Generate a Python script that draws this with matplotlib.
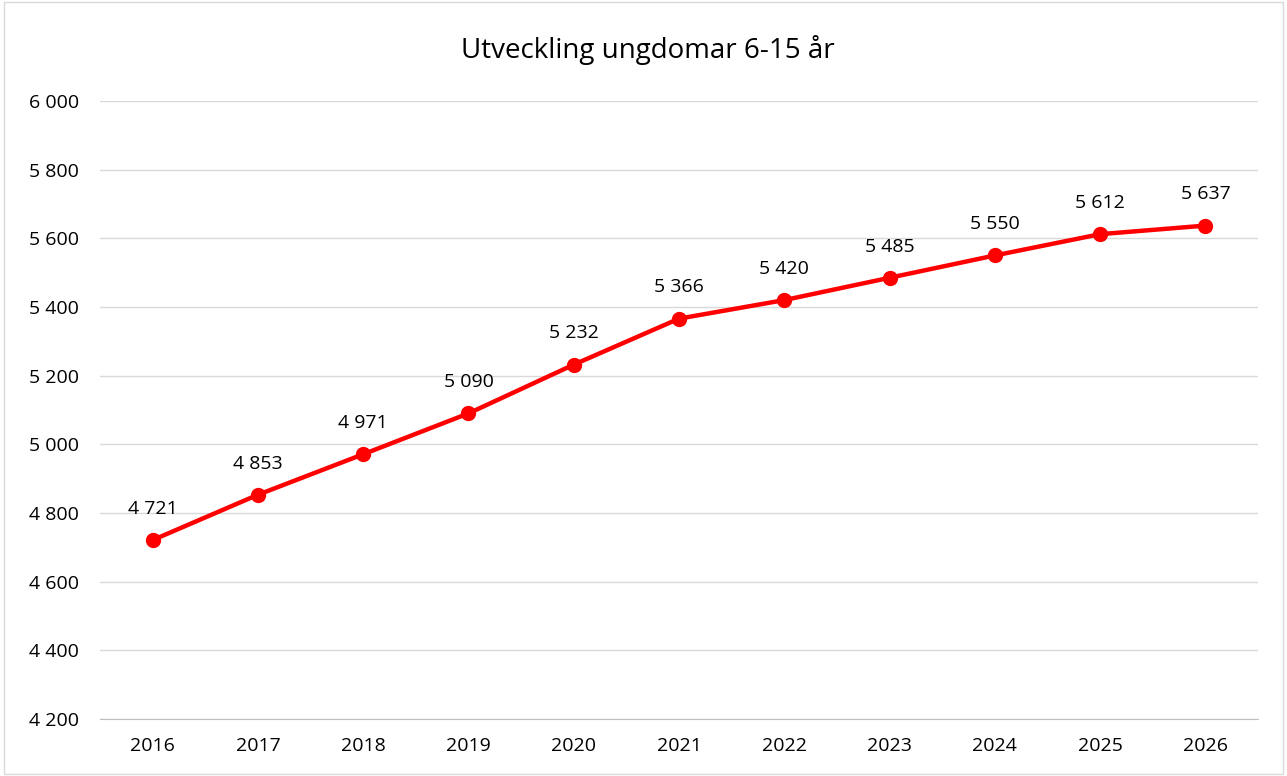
import numpy as np
import matplotlib.pyplot as plt

years = ["2016", "2017", "2018", "2019", "2020", "2021", "2022", "2023", "2024", "2025", "2026"]
values = [4721, 4853, 4971, 5090, 5232, 5366, 5420, 5485, 5550, 5612, 5637]
yticks = [4200, 4400, 4600, 4800, 5000, 5200, 5400, 5600, 5800, 6000]


def fmt(v):
    return f"{v:,}".replace(",", " ")


plt.rcParams['font.family'] = ['Open Sans', 'DejaVu Sans']

fig = plt.figure(figsize=(12.87, 7.76), dpi=100)
ax = fig.add_axes([0.0777, 0.0735, 0.8998, 0.7964])

x = np.arange(len(years))
ax.plot(x, values, color="#FF0000", lw=3.2, marker="o", ms=10, zorder=3)
for xi, v in zip(x, values):
    ax.annotate(fmt(v), (xi, v), xytext=(0, 16), textcoords="offset points",
                ha="center", va="bottom", fontsize=14, color="black")

ax.set_xlim(-0.5, len(years) - 0.5)
ax.set_ylim(4200, 6000)
ax.set_xticks(x)
ax.set_xticklabels(years, fontsize=14)
ax.set_yticks(yticks)
ax.set_yticklabels([fmt(t) for t in yticks], fontsize=14)
ax.grid(axis="y", color="#D9D9D9", lw=1)
ax.set_axisbelow(True)
for s in ["top", "right", "left"]:
    ax.spines[s].set_visible(False)
ax.spines["bottom"].set_color("#BFBFBF")
ax.tick_params(axis="x", length=0, pad=13)
ax.tick_params(axis="y", length=0, pad=15)

fig.text(0.503, 0.935, "Utveckling ungdomar 6-15 år", ha="center", va="center", fontsize=20)
fig.patches.append(plt.Rectangle((0.003, 0.003), 0.994, 0.994, transform=fig.transFigure,
                                 fill=False, edgecolor="#D9D9D9", lw=1))

fig.savefig("out.png", dpi=100)
